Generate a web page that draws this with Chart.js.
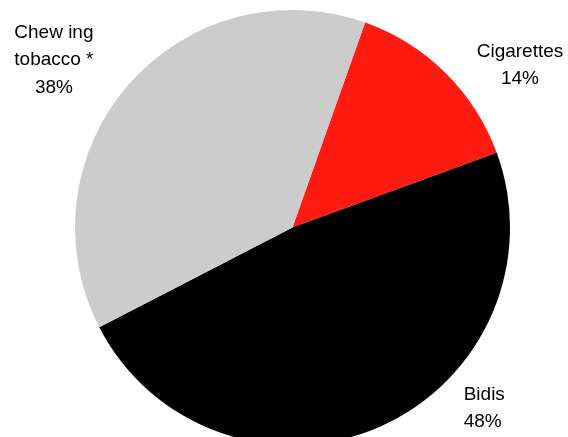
<!DOCTYPE html>
<html>
<head>
<meta charset="utf-8">
<script src="https://cdn.jsdelivr.net/npm/chart.js@4/dist/chart.umd.min.js"></script>
<style>
  html, body { margin: 0; padding: 0; background: #fff; overflow: hidden; }
  #wrap { position: relative; width: 568px; height: 450px; }
</style>
</head>
<body>
<div id="wrap"><canvas id="pie"></canvas></div>
<script>
// Tobacco use breakdown (%)
const categories = ['Cigarettes', 'Bidis', 'Chewing tobacco'];
const shares = [14, 48, 38];
const labelLines = [['Cigarettes', '14%'], ['Bidis', '48%'], ['Chew ing', 'tobacco *', '38%']];
const sliceColors = ['#ff1a12', '#000000', '#cccccc'];

// where each label block sits, relative to the pie centre in radius units
const labelAnchors = [
  { dx: 1.046, dy: -0.747, align: 'center' },
  { dx: 0.787, dy: 0.830, align: 'left' },
  { dx: -1.097, dy: -0.770, align: 'center' }
];

const outsideLabels = {
  id: 'outsideLabels',
  afterDraw(chart) {
    const ctx = chart.ctx;
    const arcs = chart.getDatasetMeta(0).data;
    ctx.save();
    ctx.font = '19px "Liberation Sans", Arial, sans-serif';
    ctx.fillStyle = '#000';
    ctx.textBaseline = 'middle';
    const lineH = 27.5;
    arcs.forEach((arc, i) => {
      const r = arc.outerRadius;
      const a = labelAnchors[i];
      const x = arc.x + a.dx * r;
      const y = arc.y + a.dy * r;
      const lines = labelLines[i];
      ctx.textAlign = a.align;
      lines.forEach((t, j) => {
        ctx.fillText(t, x, y + (j - (lines.length - 1) / 2) * lineH);
      });
    });
    ctx.restore();
  }
};

new Chart(document.getElementById('pie'), {
  type: 'pie',
  data: {
    labels: categories,
    datasets: [{
      data: shares,
      backgroundColor: sliceColors,
      borderWidth: 0
    }]
  },
  options: {
    responsive: true,
    maintainAspectRatio: false,
    animation: false,
    rotation: 19.5,
    layout: { padding: { top: 10, bottom: 5, left: 75, right: 58 } },
    plugins: {
      legend: { display: false },
      tooltip: { enabled: false }
    }
  },
  plugins: [outsideLabels]
});
</script>
</body>
</html>
